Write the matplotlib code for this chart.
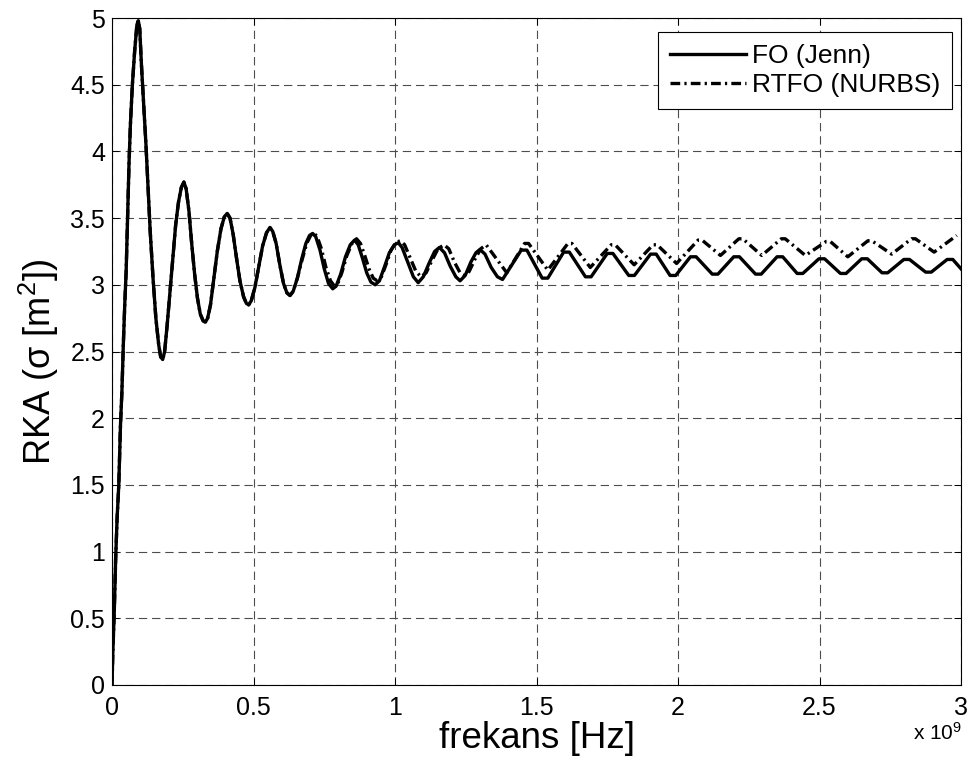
import numpy as np
import matplotlib
matplotlib.use('Agg')
import matplotlib.pyplot as plt
from matplotlib.ticker import FormatStrFormatter

plt.rcParams['font.family'] = ['Liberation Sans', 'DejaVu Sans']
plt.rcParams['mathtext.fontset'] = 'custom'
plt.rcParams['mathtext.rm'] = 'Liberation Sans'
plt.rcParams['mathtext.it'] = 'Liberation Sans:italic'
plt.rcParams['lines.scale_dashes'] = False

# FO (Jenn) curve, frequency in GHz (axis shows x 10^9)
fo_f = [0.000, 0.003, 0.008, 0.013, 0.018, 0.024, 0.030, 0.035, 0.040, 0.045,
        0.050, 0.055, 0.060, 0.065, 0.072, 0.080, 0.088, 0.093, 0.098, 0.104,
        0.112, 0.120, 0.128, 0.135, 0.145, 0.155, 0.165, 0.172, 0.179, 0.186,
        0.195, 0.205, 0.215, 0.225, 0.235, 0.245, 0.254, 0.262, 0.272, 0.282,
        0.292, 0.302, 0.312, 0.322, 0.330, 0.338, 0.348, 0.360, 0.372, 0.385,
        0.397, 0.407, 0.417, 0.428, 0.440, 0.452, 0.465, 0.475, 0.483, 0.492,
        0.505, 0.518, 0.532, 0.546, 0.558, 0.568, 0.580, 0.593, 0.606, 0.618,
        0.629, 0.640, 0.655, 0.670, 0.685, 0.698, 0.709, 0.720, 0.735, 0.750,
        0.765, 0.780, 0.792, 0.808, 0.825, 0.842, 0.857, 0.870, 0.885, 0.900,
        0.915, 0.930, 0.945, 0.962, 0.980, 0.998, 1.012, 1.025, 1.045, 1.065,
        1.082, 1.100, 1.120, 1.140, 1.157, 1.175, 1.195, 1.215, 1.230, 1.248,
        1.268, 1.286, 1.300, 1.318, 1.340, 1.362, 1.380,
        1.446, 1.466, 1.520, 1.540, 1.596, 1.616, 1.673, 1.693, 1.750, 1.770,
        1.826, 1.846, 1.903, 1.923, 1.972, 1.992, 2.044, 2.064, 2.121, 2.141,
        2.197, 2.217, 2.274, 2.294, 2.350, 2.370, 2.421, 2.441, 2.498, 2.518,
        2.574, 2.594, 2.649, 2.669, 2.721, 2.741, 2.798, 2.818, 2.875, 2.895,
        2.951, 2.971, 3.000]
fo_s = [0.00, 0.25, 0.55, 0.95, 1.25, 1.50, 1.95, 2.20, 2.55, 2.85,
        3.10, 3.50, 3.90, 4.20, 4.50, 4.75, 4.95, 4.98, 4.92, 4.65,
        4.35, 4.05, 3.70, 3.40, 3.05, 2.75, 2.55, 2.46, 2.44, 2.50,
        2.70, 2.95, 3.20, 3.45, 3.62, 3.73, 3.77, 3.72, 3.55, 3.30,
        3.08, 2.90, 2.78, 2.73, 2.72, 2.75, 2.85, 3.05, 3.25, 3.42,
        3.51, 3.535, 3.50, 3.38, 3.20, 3.03, 2.91, 2.86, 2.85, 2.88,
        2.98, 3.13, 3.29, 3.39, 3.43, 3.40, 3.31, 3.15, 3.01, 2.94,
        2.92, 2.95, 3.05, 3.19, 3.31, 3.37, 3.385, 3.36, 3.26, 3.12,
        3.01, 2.97, 2.99, 3.08, 3.21, 3.30, 3.335, 3.30, 3.20, 3.09,
        3.02, 3.00, 3.03, 3.13, 3.24, 3.30, 3.315, 3.28, 3.17, 3.06,
        3.016, 3.06, 3.16, 3.25, 3.28, 3.24, 3.14, 3.06, 3.03, 3.07,
        3.17, 3.24, 3.265, 3.23, 3.13, 3.06, 3.04,
        3.26, 3.26, 3.05, 3.05, 3.245, 3.245, 3.06, 3.06, 3.235, 3.235,
        3.07, 3.07, 3.23, 3.23, 3.07, 3.07, 3.21, 3.21, 3.08, 3.08,
        3.21, 3.21, 3.08, 3.08, 3.21, 3.21, 3.085, 3.085, 3.195, 3.195,
        3.085, 3.085, 3.195, 3.195, 3.09, 3.09, 3.19, 3.19, 3.095, 3.095,
        3.19, 3.19, 3.12]

# RTFO (NURBS) curve: identical to FO below ~0.64 GHz, then its own readings
rtfo_f = fo_f[:71] + [
        0.640, 0.655, 0.672, 0.688, 0.702, 0.713, 0.725, 0.740, 0.756, 0.772,
        0.786, 0.798, 0.812, 0.830, 0.848, 0.864, 0.878, 0.893, 0.908, 0.923,
        0.937, 0.952, 0.968, 0.986, 1.004, 1.020, 1.034, 1.054, 1.074, 1.092,
        1.110, 1.130, 1.152, 1.173, 1.190, 1.210, 1.230, 1.245, 1.262, 1.282,
        1.303, 1.322,
        1.395, 1.458, 1.472, 1.540, 1.611, 1.625, 1.690, 1.764, 1.778, 1.845,
        1.912, 1.926, 1.995, 2.071, 2.085, 2.150, 2.215, 2.229, 2.296, 2.365,
        2.379, 2.450, 2.524, 2.538, 2.600, 2.671, 2.685, 2.755, 2.825, 2.839,
        2.905, 2.985]
rtfo_s = fo_s[:71] + [
        2.95, 3.05, 3.19, 3.31, 3.37, 3.39, 3.36, 3.27, 3.13, 3.03,
        2.99, 3.01, 3.09, 3.22, 3.31, 3.345, 3.31, 3.22, 3.12, 3.05,
        3.03, 3.06, 3.15, 3.26, 3.32, 3.33, 3.30, 3.20, 3.10, 3.06,
        3.09, 3.18, 3.27, 3.30, 3.27, 3.17, 3.09, 3.07, 3.10, 3.19,
        3.27, 3.30,
        3.09, 3.31, 3.31, 3.11, 3.31, 3.31, 3.13, 3.30, 3.30, 3.15,
        3.30, 3.30, 3.16, 3.335, 3.335, 3.22, 3.345, 3.345, 3.22, 3.345,
        3.345, 3.22, 3.325, 3.325, 3.21, 3.33, 3.33, 3.23, 3.345, 3.345,
        3.245, 3.37]

x_ticks = [0, 0.5, 1, 1.5, 2, 2.5, 3]
y_ticks = [0, 0.5, 1, 1.5, 2, 2.5, 3, 3.5, 4, 4.5, 5]

fig = plt.figure(figsize=(9.71, 7.70), dpi=100)
ax = fig.add_axes([112/971, 85/770, 849/971, 667/770])

ax.plot(fo_f, fo_s, color='black', lw=2.4, solid_joinstyle='round',
        label='FO (Jenn)')
ax.plot(rtfo_f, rtfo_s, color='black', lw=2.4,
        linestyle=(0, (7, 3, 1.6, 3)), dash_capstyle='butt',
        label='RTFO (NURBS)')

ax.set_xlim(0, 3)
ax.set_ylim(0, 5)
ax.set_xticks(x_ticks)
ax.set_yticks(y_ticks)
ax.xaxis.set_major_formatter(FormatStrFormatter('%g'))
ax.yaxis.set_major_formatter(FormatStrFormatter('%g'))
ax.tick_params(direction='in', length=5, width=0.7, top=True, right=True,
               labelsize=18, colors='black')
ax.tick_params(axis='x', pad=8)
ax.tick_params(axis='y', pad=5)
for sp in ax.spines.values():
    sp.set_linewidth(0.8)

ax.grid(True, color='0.3', lw=0.8, linestyle=(0, (6, 3.5)))

ax.set_xlabel('frekans [Hz]', fontsize=26.5)
ax.xaxis.set_label_coords(0.5, -0.054)
ax.xaxis.label.set_va('top')
ax.set_ylabel('RKA (σ [m$^2$])', fontsize=26)
ax.yaxis.set_label_coords(-0.06, 0.484)

fig.text(962/971, 30/770, 'x 10$^9$', ha='right', va='baseline', fontsize=15)

leg = ax.legend(loc='upper right', bbox_to_anchor=(0.989, 0.979),
                borderaxespad=0, fontsize=19, handlelength=2.9,
                handletextpad=0.2, labelspacing=0.2, borderpad=0.45,
                fancybox=False, framealpha=1, edgecolor='black')
leg.get_frame().set_linewidth(0.8)

fig.savefig('out.png', dpi=100)
